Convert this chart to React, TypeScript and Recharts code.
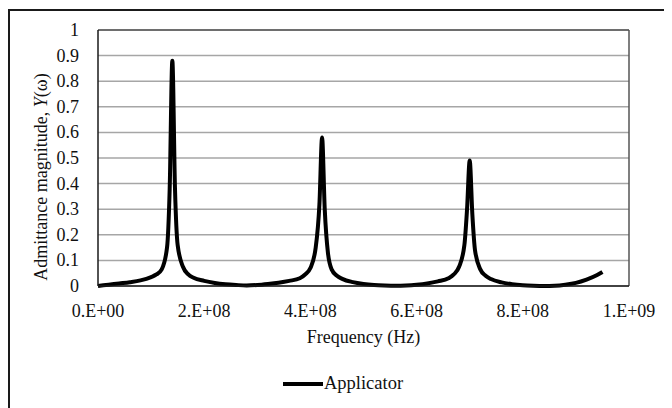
import React from "react";

import {
  CartesianGrid,
  Legend,
  Line,
  LineChart,
  ReferenceLine,
  XAxis,
  YAxis,
} from "recharts";

// frequency (Hz) and admittance magnitude
const frequency = [
  0, 2e7, 4e7, 6e7, 8e7, 1.0e8, 1.1e8, 1.2e8, 1.3e8, 1.35e8, 1.4e8, 1.45e8,
  1.5e8, 1.6e8, 1.7e8, 1.8e8, 2.0e8, 2.2e8, 2.4e8, 2.6e8, 2.8e8, 3.0e8, 3.2e8,
  3.4e8, 3.6e8, 3.8e8, 3.9e8, 4.0e8, 4.1e8, 4.17e8, 4.22e8, 4.27e8, 4.33e8,
  4.4e8, 4.5e8, 4.6e8, 4.8e8, 5.0e8, 5.2e8, 5.4e8, 5.6e8, 5.8e8, 6.0e8, 6.2e8,
  6.4e8, 6.6e8, 6.7e8, 6.8e8, 6.9e8, 6.95e8, 7.0e8, 7.05e8, 7.1e8, 7.2e8,
  7.3e8, 7.4e8, 7.6e8, 7.8e8, 8.0e8, 8.2e8, 8.4e8, 8.6e8, 8.8e8, 9.0e8, 9.2e8,
  9.4e8, 9.5e8,
];

const admittance = [
  0.0, 0.005, 0.01, 0.015, 0.022, 0.035, 0.045, 0.065, 0.15, 0.38, 0.88, 0.38,
  0.16, 0.075, 0.045, 0.032, 0.02, 0.012, 0.007, 0.004, 0.002, 0.004, 0.008,
  0.013, 0.02, 0.03, 0.045, 0.07, 0.15, 0.32, 0.58, 0.3, 0.13, 0.065, 0.04,
  0.028, 0.015, 0.008, 0.004, 0.002, 0.001, 0.002, 0.005, 0.01, 0.018, 0.03,
  0.045, 0.075, 0.16, 0.3, 0.49, 0.28, 0.14, 0.065, 0.04, 0.027, 0.014, 0.007,
  0.003, 0.001, 0.0, 0.001, 0.005, 0.012, 0.025, 0.043, 0.055,
];

const xTicks = [0, 2e8, 4e8, 6e8, 8e8, 1e9];
const xTickLabels = ["0.E+00", "2.E+08", "4.E+08", "6.E+08", "8.E+08", "1.E+09"];
const yTicks = [0, 0.1, 0.2, 0.3, 0.4, 0.5, 0.6, 0.7, 0.8, 0.9, 1];
const yTickLabels = ["0", "0.1", "0.2", "0.3", "0.4", "0.5", "0.6", "0.7", "0.8", "0.9", "1"];

const seriesName = "Applicator";

const data = frequency.map((f, i) => ({ f, y: admittance[i] }));

const font = "Liberation Serif, Times New Roman, serif";
const textColor = "#111";
const fontSize = 18;

function XTick(props: any) {
  const { x, y, payload } = props;
  return (
    <text
      x={x}
      y={y + 23}
      textAnchor="middle"
      dominantBaseline="central"
      fontFamily={font}
      fontSize={fontSize}
      fill={textColor}
    >
      {xTickLabels[xTicks.indexOf(payload.value)] ?? ""}
    </text>
  );
}

function YTick(props: any) {
  const { x, y, payload } = props;
  return (
    <text
      x={x - 17}
      y={y}
      textAnchor="end"
      dominantBaseline="central"
      fontFamily={font}
      fontSize={fontSize}
      fill={textColor}
    >
      {yTickLabels[yTicks.indexOf(payload.value)] ?? ""}
    </text>
  );
}

function XLabel(props: any) {
  const vb = props.viewBox || {};
  return (
    <text
      x={vb.x + vb.width / 2}
      y={vb.y + 51}
      textAnchor="middle"
      dominantBaseline="central"
      fontFamily={font}
      fontSize={fontSize}
      fill={textColor}
    >
      Frequency (Hz)
    </text>
  );
}

function YLabel(props: any) {
  const vb = props.viewBox || {};
  const x = vb.x + 31;
  const y = vb.y + vb.height / 2 + 19;
  return (
    <text
      x={x}
      y={y}
      transform={`rotate(-90, ${x}, ${y})`}
      textAnchor="middle"
      dominantBaseline="central"
      fontFamily={font}
      fontSize={fontSize}
      fill={textColor}
    >
      Admittance magnitude, <tspan fontStyle="italic">Y</tspan>(ω)
    </text>
  );
}

function LegendContent() {
  return (
    <div
      style={{
        display: "flex",
        alignItems: "center",
        justifyContent: "center",
        fontFamily: font,
        fontSize: 18.5,
        color: textColor,
        marginLeft: 46,
      }}
    >
      <svg width={42} height={10}>
        <line x1={1} y1={5} x2={41} y2={5} stroke="#000" strokeWidth={4} />
      </svg>
      <span>{seriesName}</span>
    </div>
  );
}

export default function App() {
  return (
    <div
      style={{
        marginTop: 1,
        width: 664,
        height: 399,
        borderTop: "2px solid #1a1a1a",
        borderLeft: "2px solid #1a1a1a",
        boxSizing: "border-box",
        position: "relative",
        fontFamily: font,
      }}
    >
      <div style={{ position: "absolute", left: 0, top: 0 }}>
        <LineChart
          width={662}
          height={396}
          data={data}
          margin={{ top: 19, right: 43, left: 0, bottom: 4 }}
        >
          <CartesianGrid
            vertical={false}
            stroke="#a6a6a6"
            strokeWidth={1.5}
          />
          <XAxis
            dataKey="f"
            type="number"
            domain={[0, 1e9]}
            ticks={xTicks}
            tickLine={false}
            tickSize={0}
            height={87}
            axisLine={{ stroke: "#1a1a1a", strokeWidth: 1.5 }}
            tick={<XTick />}
            label={<XLabel />}
          />
          <YAxis
            type="number"
            domain={[0, 1]}
            ticks={yTicks}
            tickLine={false}
            tickSize={0}
            width={88}
            axisLine={{ stroke: "#1a1a1a", strokeWidth: 1.5 }}
            tick={<YTick />}
            label={<YLabel />}
          />
          <ReferenceLine y={1} stroke="#555" strokeWidth={1.5} />
          <ReferenceLine x={1e9} stroke="#555" strokeWidth={1.5} />
          <Legend
            verticalAlign="bottom"
            align="center"
            height={30}
            content={<LegendContent />}
          />
          <Line
            type="monotone"
            dataKey="y"
            name={seriesName}
            stroke="#000"
            strokeWidth={4}
            dot={false}
            isAnimationActive={false}
          />
        </LineChart>
      </div>
    </div>
  );
}
